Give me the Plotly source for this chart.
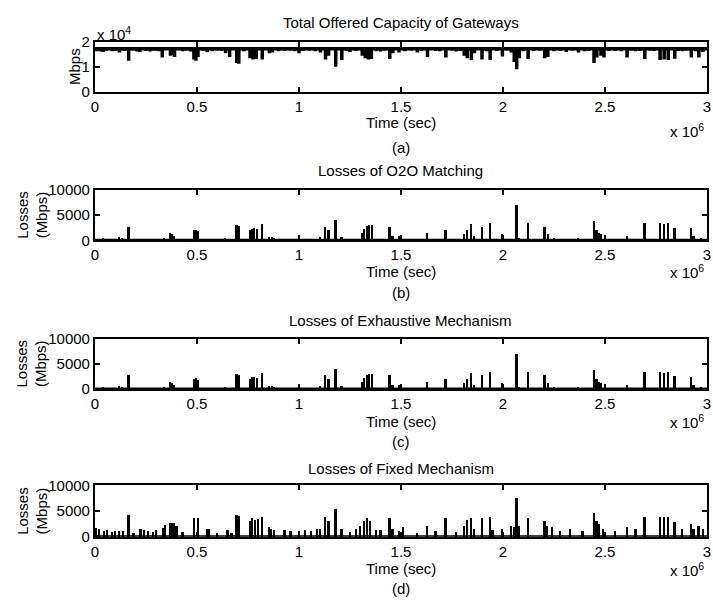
import plotly.graph_objects as go

W, H = 713, 611
FONT = "Liberation Sans, Arial, sans-serif"

# ---------------- data (time in units of 10^6 sec) ----------------
# (a) Total offered capacity of gateways (Mbps): baseline level and dips
cap_base = 17300
cap_t = [0.01, 0.02, 0.03, 0.04, 0.055, 0.07, 0.085, 0.10, 0.12, 0.145, 0.165, 0.19, 0.205, 0.22,
         0.25, 0.27, 0.285, 0.30, 0.315, 0.33, 0.37, 0.385, 0.39, 0.43, 0.45, 0.47, 0.485, 0.495,
         0.505, 0.53, 0.55, 0.575, 0.60, 0.62, 0.64, 0.66, 0.695, 0.705, 0.73, 0.76, 0.775, 0.79,
         0.82, 0.855, 0.87, 0.90, 0.93, 0.96, 0.98, 1.0, 1.02, 1.05, 1.08, 1.105, 1.13, 1.145,
         1.18, 1.21, 1.235, 1.25, 1.28, 1.31, 1.325, 1.34, 1.355, 1.38, 1.40, 1.42, 1.445, 1.46,
         1.49, 1.52, 1.55, 1.58, 1.60, 1.63, 1.67, 1.69, 1.72, 1.75, 1.77, 1.79, 1.81, 1.825,
         1.845, 1.86, 1.897, 1.92, 1.937, 1.97, 1.997, 2.02, 2.04, 2.055, 2.067, 2.08, 2.10, 2.123,
         2.15, 2.18, 2.204, 2.22, 2.25, 2.28, 2.31, 2.34, 2.37, 2.40, 2.42, 2.446, 2.46, 2.48,
         2.495, 2.52, 2.55, 2.58, 2.608, 2.63, 2.65, 2.67, 2.695, 2.72, 2.74, 2.77, 2.79, 2.81,
         2.842, 2.86, 2.88, 2.90, 2.923, 2.945, 2.96, 2.98]
cap_v = [16300, 16500, 16200, 16000, 16500, 16600, 16300, 16400, 15800, 16400, 12500, 16500,
         16200, 16000, 16400, 16200, 16500, 16500, 16300, 13800, 14500, 14800, 14000, 16300,
         16500, 16200, 13000, 12500, 14000, 16400, 16000, 16300, 16500, 16400, 15500, 14000,
         11500, 11200, 16300, 13500, 13000, 13200, 13000, 15500, 15800, 16300, 16400, 16500,
         16300, 15500, 16400, 16500, 16300, 15800, 13000, 14500, 10000, 12800, 16400, 16000,
         16400, 14500, 13500, 13000, 13200, 16300, 16200, 16500, 13200, 15500, 15800, 16300,
         16500, 15800, 16400, 14000, 16400, 16300, 13800, 16500, 16200, 16400, 14500, 13500,
         12800, 15500, 13000, 16300, 12800, 16400, 14200, 16500, 15800, 12000, 9000, 13500,
         16300, 13200, 16400, 16500, 13500, 14000, 16300, 16400, 16000, 16500, 15800, 16300,
         16400, 11500, 13800, 14500, 13800, 16400, 16400, 16300, 13800, 16500, 16300, 16400,
         13200, 16500, 16400, 12800, 13000, 12800, 13300, 16400, 16300, 16500, 13800, 16300,
         13800, 16000]

# (b) Losses of O2O Matching (Mbps)
o2o_t = [0.04, 0.12, 0.135, 0.165, 0.22, 0.27, 0.31, 0.34, 0.37, 0.38, 0.39, 0.485, 0.495,
         0.505, 0.55, 0.64, 0.695, 0.705, 0.76, 0.77, 0.78, 0.795, 0.82, 0.855, 0.87, 0.88, 1.0,
         1.105, 1.13, 1.145, 1.18, 1.21, 1.25, 1.31, 1.32, 1.335, 1.345, 1.36, 1.40, 1.445, 1.46,
         1.49, 1.52, 1.58, 1.63, 1.67, 1.72, 1.77, 1.81, 1.825, 1.845, 1.86, 1.897, 1.937, 1.997,
         2.067, 2.08, 2.123, 2.204, 2.22, 2.25, 2.31, 2.37, 2.446, 2.46, 2.47, 2.48, 2.608, 2.695,
         2.77, 2.79, 2.81, 2.842, 2.923, 2.935, 2.97]
o2o_v = [500, 700, 500, 2700, 300, 300, 400, 600, 1500, 1300, 1000, 2000, 2100, 1800, 400, 500,
         3000, 2800, 2000, 2300, 2500, 2200, 3200, 800, 800, 500, 1000, 700, 2700, 2000, 4000,
         700, 300, 1500, 2200, 2800, 3000, 3000, 400, 2700, 1000, 1000, 400, 400, 1500, 300, 2000,
         400, 1200, 2000, 3200, 1000, 2700, 3400, 1200, 7000, 500, 3400, 2700, 1200, 500, 400, 500,
         3800, 2000, 1500, 1200, 1000, 3400, 3400, 3200, 3400, 2500, 2500, 1000, 600]

# (c) Losses of Exhaustive Mechanism (Mbps)
exh_t = [0.04, 0.12, 0.135, 0.165, 0.22, 0.27, 0.31, 0.34, 0.37, 0.38, 0.39, 0.485, 0.495,
         0.505, 0.55, 0.64, 0.695, 0.705, 0.76, 0.77, 0.78, 0.795, 0.82, 0.855, 0.87, 0.88, 1.0,
         1.105, 1.13, 1.145, 1.18, 1.21, 1.25, 1.31, 1.32, 1.335, 1.345, 1.36, 1.40, 1.445, 1.46,
         1.49, 1.52, 1.58, 1.63, 1.67, 1.72, 1.77, 1.81, 1.825, 1.845, 1.86, 1.897, 1.937, 1.997,
         2.067, 2.08, 2.123, 2.204, 2.22, 2.25, 2.31, 2.37, 2.446, 2.46, 2.47, 2.48, 2.608, 2.695,
         2.77, 2.79, 2.81, 2.842, 2.923, 2.935, 2.97]
exh_v = [500, 700, 500, 2800, 300, 300, 400, 600, 1500, 1300, 1000, 2100, 2200, 1800, 400, 500,
         3100, 2900, 2000, 2400, 2500, 2200, 3200, 800, 800, 500, 1000, 700, 2800, 2000, 4100,
         700, 300, 1500, 2300, 2900, 3100, 3100, 400, 2800, 1000, 1000, 400, 400, 1500, 300, 2100,
         400, 1200, 2000, 3300, 1000, 2800, 3500, 1200, 7100, 500, 3500, 2800, 1200, 500, 400, 500,
         3900, 2100, 1500, 1200, 1000, 3500, 3500, 3300, 3500, 2600, 2500, 1000, 600]

# (d) Losses of Fixed Mechanism (Mbps)
fix_t = [0.005, 0.02, 0.045, 0.06, 0.085, 0.10, 0.12, 0.14, 0.165, 0.19, 0.225, 0.24, 0.26,
         0.285, 0.30, 0.335, 0.345, 0.37, 0.38, 0.39, 0.40, 0.43, 0.485, 0.505, 0.55, 0.56, 0.60,
         0.65, 0.67, 0.695, 0.705, 0.76, 0.77, 0.785, 0.80, 0.82, 0.855, 0.865, 0.88, 0.93, 0.96,
         1.0, 1.03, 1.06, 1.09, 1.105, 1.13, 1.145, 1.18, 1.21, 1.25, 1.28, 1.30, 1.32, 1.335,
         1.35, 1.38, 1.40, 1.445, 1.46, 1.49, 1.51, 1.58, 1.63, 1.67, 1.72, 1.77, 1.81, 1.825,
         1.845, 1.86, 1.897, 1.937, 1.95, 1.997, 2.04, 2.055, 2.067, 2.08, 2.123, 2.204, 2.215,
         2.24, 2.28, 2.33, 2.39, 2.446, 2.46, 2.47, 2.49, 2.55, 2.608, 2.65, 2.695, 2.77, 2.79,
         2.81, 2.842, 2.88, 2.923, 2.935, 2.96, 2.98]
fix_v = [1600, 1400, 1000, 1200, 900, 1000, 1100, 1000, 4100, 600, 1400, 1200, 1000, 900, 1300,
         1700, 2300, 2700, 2700, 2600, 2000, 800, 3500, 3500, 1500, 1400, 700, 1300, 600, 4100,
         3900, 3000, 3500, 3300, 3400, 3800, 1800, 1500, 1200, 1300, 1000, 1100, 1200, 1000, 1400,
         1500, 3800, 3000, 5400, 1500, 800, 1500, 2000, 3000, 3500, 3000, 1200, 1200, 3500, 1500,
         1000, 1800, 700, 2000, 1000, 3500, 800, 2000, 3200, 3500, 1500, 3500, 3700, 1200, 1400,
         2000, 1800, 7500, 2000, 3500, 3000, 2000, 1800, 1000, 1500, 1000, 4500, 3000, 2500, 1500,
         1000, 1800, 1500, 3700, 3800, 3700, 3800, 2800, 1500, 2500, 1500, 2000, 1500]

x_ticks = [0, 0.5, 1, 1.5, 2, 2.5, 3]
x_tick_labels = ["0", "0.5", "1", "1.5", "2", "2.5", "3"]
titles = ["Total Offered Capacity of Gateways", "Losses of O2O Matching",
          "Losses of Exhaustive Mechanism", "Losses of Fixed Mechanism"]
subcaps = ["(a)", "(b)", "(c)", "(d)"]

# ---------------- layout geometry (pixels) ----------------
px_left, px_right = 92, 711
panels = [(34, 85), (186, 238), (339, 391), (490, 543)]   # top, bottom
title_y = [14, 166, 320, 473]
time_y = [117, 270, 424, 576]
sub_y = [142, 292, 445, 596]
x10_y = [125, 270, 424, 577]


def fy(p):
    return 1 - p / H


def fx(p):
    return p / W


fig = go.Figure()

# capacity line built from baseline + dips
cx, cy = [0.0], [cap_base]
for t, v in sorted(zip(cap_t, cap_v)):
    cx += [t, t, t]
    cy += [cap_base, v, cap_base]
cx.append(3.0)
cy.append(cap_base)
fig.add_trace(go.Scatter(x=cx, y=cy, mode="lines", line=dict(color="black", width=3.5),
                         xaxis="x", yaxis="y", showlegend=False, hoverinfo="skip"))

for i, (tt, vv) in enumerate([(o2o_t, o2o_v), (exh_t, exh_v), (fix_t, fix_v)], start=2):
    fig.add_trace(go.Bar(x=tt, y=vv, width=0.009, marker=dict(color="black", line=dict(width=0)),
                         xaxis=f"x{i}", yaxis=f"y{i}", showlegend=False, hoverinfo="skip"))
    # baseline of near-zero losses
    fig.add_trace(go.Scatter(x=[0, 3], y=[150, 150], mode="lines",
                             line=dict(color="black", width=1.5),
                             xaxis=f"x{i}", yaxis=f"y{i}", showlegend=False, hoverinfo="skip"))

axis_common = dict(showline=True, linecolor="black", linewidth=2, mirror="ticks",
                   ticks="inside", ticklen=5, tickwidth=1.5, tickcolor="black",
                   showgrid=False, zeroline=False, ticklabeloverflow="allow",
                   tickfont=dict(family=FONT, size=15, color="black"))

layout = dict(width=W, height=H, margin=dict(l=0, r=0, t=0, b=0),
              paper_bgcolor="white", plot_bgcolor="white", barmode="overlay",
              bargap=0, showlegend=False, font=dict(family=FONT, size=15, color="black"))
annotations = []
for k, (top, bot) in enumerate(panels):
    n = "" if k == 0 else str(k + 1)
    layout[f"xaxis{n}"] = dict(axis_common, domain=[fx(px_left), fx(px_right)], range=[0, 3],
                               tickvals=x_ticks, ticktext=x_tick_labels,
                               anchor=f"y{n}")
    if k == 0:
        yt = dict(range=[0, 20000], tickvals=[0, 10000, 20000], ticktext=["0", "1", "2"])
    else:
        yt = dict(range=[0, 10000], tickvals=[0, 5000, 10000], ticktext=["0", "5000", "10000"])
    layout[f"yaxis{n}"] = dict(axis_common, domain=[fy(bot), fy(top)], anchor=f"x{n}", **yt)

    annotations.append(dict(text=titles[k], x=(fx(px_left) + fx(px_right)) / 2, y=fy(title_y[k]),
                            xref="paper", yref="paper", xanchor="center", yanchor="middle",
                            showarrow=False, font=dict(size=15)))
    annotations.append(dict(text="Time (sec)", x=(fx(px_left) + fx(px_right)) / 2, y=fy(time_y[k]),
                            xref="paper", yref="paper", xanchor="center", yanchor="middle",
                            showarrow=False, font=dict(size=15)))
    annotations.append(dict(text=subcaps[k], x=(fx(px_left) + fx(px_right)) / 2, y=fy(sub_y[k]),
                            xref="paper", yref="paper", xanchor="center", yanchor="middle",
                            showarrow=False, font=dict(size=15)))
    annotations.append(dict(text="x 10<sup>6</sup>", x=fx(710), y=fy(x10_y[k]),
                            xref="paper", yref="paper", xanchor="right", yanchor="middle",
                            showarrow=False, font=dict(size=15)))
    ymid = fy((top + bot) / 2)
    if k == 0:
        annotations.append(dict(text="Mbps", x=fx(72), y=ymid, xref="paper", yref="paper",
                                xanchor="center", yanchor="middle", textangle=-90,
                                showarrow=False, font=dict(size=15)))
    else:
        annotations.append(dict(text="Losses<br>(Mbps)", x=fx(28), y=ymid, xref="paper",
                                yref="paper", xanchor="center", yanchor="middle", textangle=-90,
                                showarrow=False, font=dict(size=15)))

annotations.append(dict(text="x 10<sup>4</sup>", x=fx(92), y=fy(25), xref="paper", yref="paper",
                        xanchor="left", yanchor="middle", showarrow=False, font=dict(size=15)))
layout["annotations"] = annotations
fig.update_layout(**layout)

fig.write_html("out.html")
